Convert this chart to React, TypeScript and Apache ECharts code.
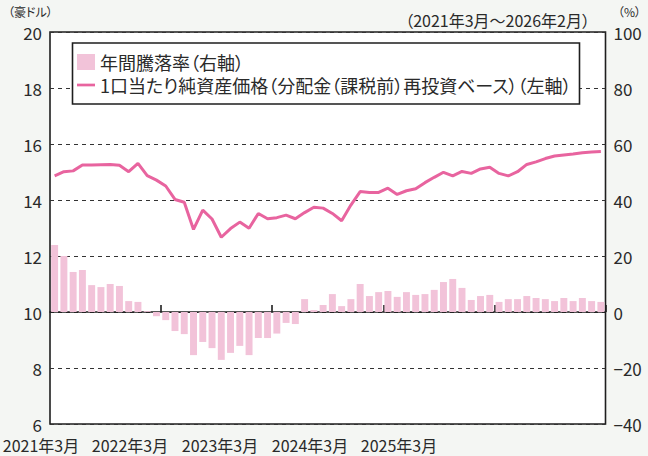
import React, { useEffect, useRef } from "react";
import * as echarts from "echarts";

const FONT = "'Noto Sans CJK JP', 'Noto Sans', sans-serif";

const BAR_NAME = "年間騰落率（右軸）";
const LINE_NAME = "1口当たり純資産価格（分配金（課税前）再投資ベース）（左軸）";

// months 2021/3 .. 2026/2
const categories: string[] = [];
for (let k = 0; k < 60; k++) {
  const m = ((2 + k) % 12) + 1;
  const y = 2021 + Math.floor((2 + k) / 12);
  categories.push(`${y}年${m}月`);
}

const priceValues = [
  14.86, 15.01, 15.04, 15.25, 15.25, 15.26, 15.27, 15.24, 15.01, 15.31,
  14.87, 14.71, 14.5, 14.02, 13.92, 12.95, 13.64, 13.32, 12.67, 12.98,
  13.21, 12.99, 13.52, 13.33, 13.37, 13.46, 13.33, 13.55, 13.74, 13.71,
  13.52, 13.26, 13.82, 14.3, 14.27, 14.27, 14.42, 14.2, 14.33, 14.4,
  14.62, 14.81, 14.99, 14.86, 15.02, 14.95, 15.11, 15.17, 14.95, 14.86,
  15.01, 15.27, 15.36, 15.48, 15.57, 15.61, 15.64, 15.69, 15.71, 15.73,
];

const returnValues = [
  23.9, 20.0, 14.3, 15.0, 9.6, 8.9, 10.0, 9.3, 3.9, 3.6,
  0.3, -1.5, -2.9, -6.8, -7.9, -15.4, -10.7, -12.9, -17.1, -14.6,
  -12.1, -15.4, -9.3, -9.3, -7.7, -3.9, -4.3, 4.6, 0.7, 2.5,
  6.4, 2.1, 4.6, 10.0, 5.7, 7.1, 7.5, 5.4, 7.1, 6.1,
  6.4, 7.9, 10.7, 11.8, 8.6, 4.3, 5.7, 6.1, 3.6, 4.6,
  4.6, 5.7, 5.0, 4.6, 3.9, 5.0, 3.9, 5.0, 3.9, 3.6,
];

const xTickLabels = ["2021年3月", "2022年3月", "2023年3月", "2024年3月", "2025年3月"];
const xTickLabelX = [41, 130, 220, 310, 399];

const LINE_COLOR = "#e8649f";
const BAR_COLOR = "#f2c3d9";
const TEXT_COLOR = "#2a2a2a";

export default function App() {
  const ref = useRef<HTMLDivElement>(null);
  useEffect(() => {
    if (!ref.current) return;
    const chart = echarts.init(ref.current, null, { renderer: "svg" });
    const option: any = {
      animation: false,
      backgroundColor: "#f4f6f3",
      textStyle: { fontFamily: FONT },
      grid: {
        left: 50,
        right: 42.5,
        top: 32,
        bottom: 32,
        show: true,
        backgroundColor: "#ffffff",
        borderColor: "#1e1e1e",
        borderWidth: 1.6,
      },
      legend: {
        orient: "vertical",
        left: 77,
        top: 53,
        padding: 0,
        itemGap: 5,
        itemWidth: 18,
        itemHeight: 16,
        z: 10,
        selectedMode: false,
        textStyle: { fontSize: 18, color: TEXT_COLOR, lineHeight: 18, fontFamily: FONT },
        data: [
          { name: BAR_NAME, icon: "rect" },
          { name: LINE_NAME, icon: "path://M0,0H20V3H0Z" },
        ],
      },
      xAxis: {
        type: "category",
        data: categories,
        boundaryGap: true,
        axisLine: { onZero: true, onZeroAxisIndex: 1, lineStyle: { color: "#1e1e1e", width: 1.6 } },
        axisTick: {
          show: true,
          inside: true,
          length: 7,
          interval: (i: number) => i > 0 && i % 12 === 0,
          lineStyle: { color: "#1e1e1e", width: 1.6 },
        },
        axisLabel: { show: false },
        splitLine: { show: false },
      },
      yAxis: [
        {
          type: "value",
          min: 6,
          max: 20,
          interval: 2,
          position: "left",
          axisLine: { show: false },
          axisTick: { show: false },
          axisLabel: { fontSize: 17, color: TEXT_COLOR, margin: 8, fontFamily: FONT },
          splitLine: { show: true, lineStyle: { color: "#333", type: [4, 4], width: 1 } },
        },
        {
          type: "value",
          min: -40,
          max: 100,
          interval: 20,
          position: "right",
          axisLine: { show: false },
          axisTick: { show: false },
          splitLine: { show: false },
          axisLabel: {
            fontSize: 17,
            color: TEXT_COLOR,
            margin: 8,
            fontFamily: FONT,
            formatter: (v: number) => (v < 0 ? "−" + Math.abs(v) : String(v)),
          },
        },
      ],
      series: [
        {
          name: BAR_NAME,
          type: "bar",
          yAxisIndex: 1,
          data: returnValues,
          barCategoryGap: "25%",
          itemStyle: { color: BAR_COLOR },
          z: 2,
        },
        {
          name: LINE_NAME,
          type: "line",
          yAxisIndex: 0,
          data: priceValues,
          symbol: "none",
          lineStyle: { color: LINE_COLOR, width: 3 },
          itemStyle: { color: LINE_COLOR },
          z: 3,
        },
      ],
      graphic: [
        {
          type: "rect",
          z: 5,
          shape: { x: 72.5, y: 43, width: 507, height: 61 },
          style: { fill: "#ffffff", stroke: "#1e1e1e", lineWidth: 1.6 },
        },
        {
          type: "text",
          x: 8,
          y: 11,
          style: { text: "（豪ドル）", fontSize: 12, fill: TEXT_COLOR, fontFamily: FONT, textAlign: "left", textVerticalAlign: "middle" },
        },
        {
          type: "text",
          x: 641,
          y: 11,
          style: { text: "（%）", fontSize: 12, fill: TEXT_COLOR, fontFamily: FONT, textAlign: "right", textVerticalAlign: "middle" },
        },
        {
          type: "text",
          x: 590,
          y: 20,
          style: { text: "（2021年3月～2026年2月）", fontSize: 16, fill: TEXT_COLOR, fontFamily: FONT, textAlign: "right", textVerticalAlign: "middle" },
        },
        ...xTickLabels.map((t, i) => ({
          type: "text",
          x: xTickLabelX[i],
          y: 445,
          style: { text: t, fontSize: 16, fill: TEXT_COLOR, fontFamily: FONT, textAlign: "center", textVerticalAlign: "middle" },
        })),
      ],
    };
    chart.setOption(option);
    return () => chart.dispose();
  }, []);
  return (
    <>
      <style>{`text{font-feature-settings:"palt" 1;}`}</style>
      <div ref={ref} style={{ position: "fixed", left: 0, top: 0, width: 648, height: 456 }} />
    </>
  );
}
